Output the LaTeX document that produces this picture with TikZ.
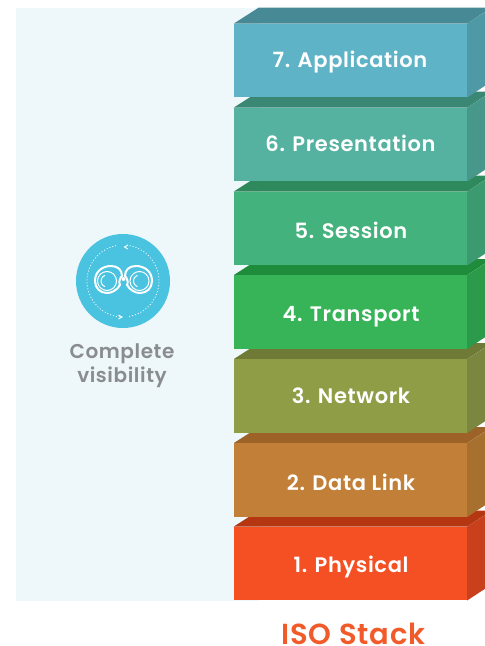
\documentclass[tikz,border=0pt]{standalone}
\usepackage{fontspec}
\setmainfont{Poppins}[BoldFont=Poppins SemiBold,LetterSpace=3]
\definecolor{panelblue}{HTML}{EEF7FA}
\definecolor{iconblue}{HTML}{4AC3E0}
\definecolor{labelgrey}{HTML}{8A8D8F}
\definecolor{isored}{HTML}{F15A29}
\begin{document}
\begin{tikzpicture}[x=1pt,y=-1pt]
  \def\dx{25}
  \def\dy{16}
  \def\w{233}

\tikzstyle{layer}=[rectangle,minimum width=\w pt,minimum height=73.5pt,inner sep=0pt]
\tikzstyle{caption}=[anchor=base,inner sep=0pt,text=white,font=\fontsize{21}{24}\selectfont\bfseries]
\tikzstyle{barrel}=[draw=white,line width=2pt,line join=round]
\tikzstyle{lens}=[draw=white,line width=1pt]
\tikzstyle{ring}=[draw=white,line width=0.8pt,dash pattern=on 1pt off 2pt]
\useasboundingbox (0,0) rectangle (485,646);
\fill[panelblue] (16,8) rectangle (259,600.5);

\node[layer] (L1) at (350.5,563.5) {};
\fill[fill={rgb,255:red,181;green,55;blue,17}] (L1.north west) -- ++(\dx,-\dy) -- ++(\w,0) -- (L1.north east) -- cycle;
\fill[fill={rgb,255:red,200;green,64;blue,28}] (L1.north east) -- ++(\dx,-\dy) -- ++(0,73.5) -- (L1.south east) -- cycle;
\node[layer,fill={rgb,255:red,245;green,80;blue,35}] (P1) at (L1) {};
\node[caption] (T1) at (351,572) {1. Physical};

\node[layer] (L2) at (350.5,480) {};
\fill[fill={rgb,255:red,156;green,98;blue,40}] (L2.north west) -- ++(\dx,-\dy) -- ++(\w,0) -- (L2.north east) -- cycle;
\fill[fill={rgb,255:red,168;green,112;blue,46}] (L2.north east) -- ++(\dx,-\dy) -- ++(0,73.5) -- (L2.south east) -- cycle;
\node[layer,fill={rgb,255:red,194;green,127;blue,55}] (P2) at (L2) {};
\node[caption] (T2) at (351,490) {2. Data Link};

\node[layer] (L3) at (350.5,396) {};
\fill[fill={rgb,255:red,111;green,122;blue,54}] (L3.north west) -- ++(\dx,-\dy) -- ++(\w,0) -- (L3.north east) -- cycle;
\fill[fill={rgb,255:red,123;green,135;blue,64}] (L3.north east) -- ++(\dx,-\dy) -- ++(0,73.5) -- (L3.south east) -- cycle;
\node[layer,fill={rgb,255:red,143;green,157;blue,70}] (P3) at (L3) {};
\node[caption] (T3) at (351,403) {3. Network};

\node[layer] (L4) at (350.5,312) {};
\fill[fill={rgb,255:red,31;green,140;blue,60}] (L4.north west) -- ++(\dx,-\dy) -- ++(\w,0) -- (L4.north east) -- cycle;
\fill[fill={rgb,255:red,44;green,154;blue,75}] (L4.north east) -- ++(\dx,-\dy) -- ++(0,73.5) -- (L4.south east) -- cycle;
\node[layer,fill={rgb,255:red,54;green,180;blue,87}] (P4) at (L4) {};
\node[caption] (T4) at (351,321) {4. Transport};

\node[layer] (L5) at (350.5,228.5) {};
\fill[fill={rgb,255:red,46;green,138;blue,92}] (L5.north west) -- ++(\dx,-\dy) -- ++(\w,0) -- (L5.north east) -- cycle;
\fill[fill={rgb,255:red,60;green,154;blue,112}] (L5.north east) -- ++(\dx,-\dy) -- ++(0,73.5) -- (L5.south east) -- cycle;
\node[layer,fill={rgb,255:red,67;green,178;blue,124}] (P5) at (L5) {};
\node[caption] (T5) at (351,238) {5. Session};

\node[layer] (L6) at (350.5,144.5) {};
\fill[fill={rgb,255:red,58;green,136;blue,116}] (L6.north west) -- ++(\dx,-\dy) -- ++(\w,0) -- (L6.north east) -- cycle;
\fill[fill={rgb,255:red,71;green,151;blue,138}] (L6.north east) -- ++(\dx,-\dy) -- ++(0,73.5) -- (L6.south east) -- cycle;
\node[layer,fill={rgb,255:red,85;green,178;blue,160}] (P6) at (L6) {};
\node[caption] (T6) at (350.5,151) {6. Presentation};

\node[layer] (L7) at (350.5,60.5) {};
\fill[fill={rgb,255:red,71;green,138;blue,150}] (L7.north west) -- ++(\dx,-\dy) -- ++(\w,0) -- (L7.north east) -- cycle;
\fill[fill={rgb,255:red,79;green,152;blue,166}] (L7.north east) -- ++(\dx,-\dy) -- ++(0,73.5) -- (L7.south east) -- cycle;
\node[layer,fill={rgb,255:red,95;green,179;blue,199}] (P7) at (L7) {};
\node[caption] (T7) at (350,67.5) {7. Application};

\node[anchor=base,inner sep=0pt,text depth=0pt,text=isored,font=\fontsize{29}{30}\selectfont\bfseries] (stack) at (353.5,644.5) {ISO Stack};

\node[circle,fill=iconblue,minimum size=94pt,inner sep=0pt] (eye) at (123,281) {};
\node[text=labelgrey,font=\fontsize{20}{24}\selectfont\bfseries,align=center] (seen) at (122,366) {Complete\\visibility};

% dotted ring with its two chevrons
\draw[ring] (eye.center) ++(80:36) arc (80:-85:36);
\draw[ring] (eye.center) ++(95:36) arc (95:260:36);
\draw[white,line width=0.9pt] (128,245) -- (124.5,247) -- (128,249);
\draw[white,line width=0.9pt] (118.5,315) -- (122,317) -- (118.5,319);

% binoculars
\draw[barrel] (95,281) .. controls (95,271) and (103,266) .. (111,266) .. controls (118,266) and (122,270) .. (122,276) .. controls (119,279) and (119,283) .. (120,285) .. controls (117,290) and (112,293) .. (107,293) .. controls (100,293) and (95,288) .. (95,281) -- cycle;
\draw[barrel] (152,281) .. controls (152,271) and (144,266) .. (136,266) .. controls (129,266) and (125,270) .. (125,276) .. controls (128,279) and (128,283) .. (127,285) .. controls (130,290) and (135,293) .. (140,293) .. controls (147,293) and (152,288) .. (152,281) -- cycle;
\node[circle,lens,minimum size=19pt,inner sep=0pt] (lensa) at (107,281) {};
\node[circle,lens,minimum size=19pt,inner sep=0pt] (lensb) at (139.5,281) {};
\draw[lens] (lensa.center) ++(110:6) arc (110:250:6);
\draw[lens] (lensb.center) ++(110:6) arc (110:250:6);
\node[circle,fill=white,minimum size=4pt,inner sep=0pt] (hinge) at (123.5,279) {};
\end{tikzpicture}
\end{document}
